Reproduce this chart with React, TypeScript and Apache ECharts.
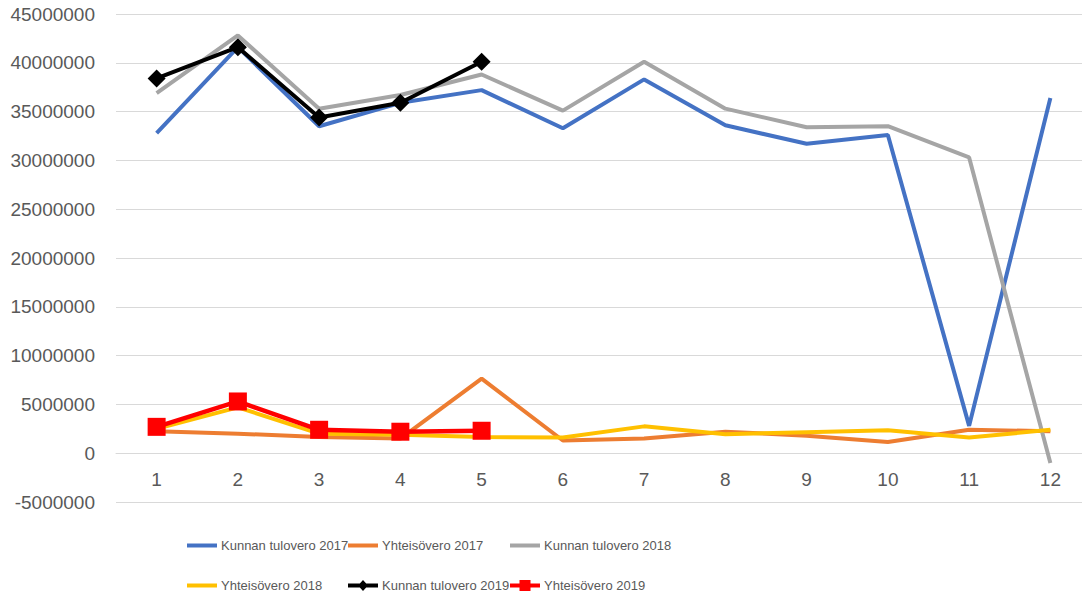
import React, { useEffect, useRef } from "react";
import * as echarts from "echarts";

const months = ["1", "2", "3", "4", "5", "6", "7", "8", "9", "10", "11", "12"];

const kunnanTulovero2017 = [32800000, 41600000, 33500000, 35900000, 37200000, 33300000, 38300000, 33600000, 31700000, 32600000, 2800000, 36400000];
const yhteisovero2017 = [2250000, 2000000, 1650000, 1500000, 7650000, 1300000, 1500000, 2200000, 1800000, 1150000, 2400000, 2250000];
const kunnanTulovero2018 = [36900000, 42800000, 35300000, 36700000, 38800000, 35100000, 40100000, 35300000, 33400000, 33500000, 30300000, -1000000];
const yhteisovero2018 = [2500000, 4700000, 2000000, 1900000, 1650000, 1600000, 2750000, 1950000, 2150000, 2350000, 1600000, 2400000];
const kunnanTulovero2019 = [38400000, 41600000, 34400000, 35900000, 40100000];
const yhteisovero2019 = [2700000, 5300000, 2400000, 2200000, 2300000];

const seriesNames = [
  "Kunnan tulovero 2017",
  "Yhteisövero 2017",
  "Kunnan tulovero 2018",
  "Yhteisövero 2018",
  "Kunnan tulovero 2019",
  "Yhteisövero 2019",
];

const FONT = "'Liberation Sans', Arial, sans-serif";
const TEXT = "#595959";

const ICON_LINE = "path://M0,0H30V4H0Z";
const ICON_DIAMOND = "path://M0,3.5H11.8L15,0L18.2,3.5H30V7.5H18.2L15,11L11.8,7.5H0Z";
const ICON_SQUARE = "path://M0,3.5H9.5V0H20.5V3.5H30V7.5H20.5V11H9.5V7.5H0Z";

export default function App() {
  const ref = useRef<HTMLDivElement>(null);

  useEffect(() => {
    if (!ref.current) return;
    const chart = echarts.init(ref.current, null, { renderer: "svg" });

    const legendPos = [
      { left: 187, top: 539 },
      { left: 348, top: 539 },
      { left: 510, top: 539 },
      { left: 187, top: 579 },
      { left: 348, top: 579 },
      { left: 510, top: 579 },
    ];
    const icons = [ICON_LINE, ICON_LINE, ICON_LINE, ICON_LINE, ICON_DIAMOND, ICON_SQUARE];

    const lineSeries = (name: string, data: number[], color: string, extra: any = {}) => ({
      name,
      type: "line",
      data,
      symbol: "none",
      showSymbol: false,
      lineStyle: { color, width: 4 },
      itemStyle: { color },
      ...extra,
    });

    chart.setOption({
      animation: false,
      backgroundColor: "#ffffff",
      textStyle: { fontFamily: FONT },
      grid: { left: 116, right: 0, top: 14, bottom: 95 },
      legend: legendPos.map((p, i) => ({
        left: p.left,
        top: p.top,
        data: [{ name: seriesNames[i], icon: icons[i] }],
        itemWidth: 30,
        itemHeight: 11,
        itemGap: 4,
        symbolKeepAspect: true,
        padding: 0,
        textStyle: { color: TEXT, fontSize: 13, fontFamily: FONT, padding: [0, 0, 0, -1] },
      })),
      xAxis: {
        type: "category",
        data: months,
        boundaryGap: true,
        axisLine: { onZero: true, lineStyle: { color: "#d9d9d9", width: 1 } },
        axisTick: { show: false },
        axisLabel: { color: TEXT, fontSize: 19, margin: -32, fontFamily: FONT },
        splitLine: { show: false },
      },
      yAxis: {
        type: "value",
        min: -5000000,
        max: 45000000,
        interval: 5000000,
        axisLine: { show: false },
        axisTick: { show: false },
        axisLabel: {
          color: TEXT,
          fontSize: 19,
          margin: 21,
          fontFamily: FONT,
          formatter: (v: number) => String(v),
        },
        splitLine: { lineStyle: { color: "#d9d9d9", width: 1 } },
      },
      series: [
        lineSeries(seriesNames[0], kunnanTulovero2017, "#4472C4"),
        lineSeries(seriesNames[1], yhteisovero2017, "#ED7D31"),
        lineSeries(seriesNames[2], kunnanTulovero2018, "#A5A5A5"),
        lineSeries(seriesNames[3], yhteisovero2018, "#FFC000"),
        lineSeries(seriesNames[4], kunnanTulovero2019, "#000000", {
          symbol: "diamond",
          showSymbol: true,
          symbolSize: 18,
          lineStyle: { color: "#000000", width: 4 },
        }),
        lineSeries(seriesNames[5], yhteisovero2019, "#FF0000", {
          symbol: "rect",
          showSymbol: true,
          symbolSize: 18,
          lineStyle: { color: "#FF0000", width: 4.5 },
        }),
      ],
    });

    return () => chart.dispose();
  }, []);

  return (
    <div style={{ position: "absolute", left: 0, top: 0, width: 1082, height: 597, overflow: "hidden" }}>
      <div ref={ref} style={{ width: 1091, height: 597 }} />
    </div>
  );
}
